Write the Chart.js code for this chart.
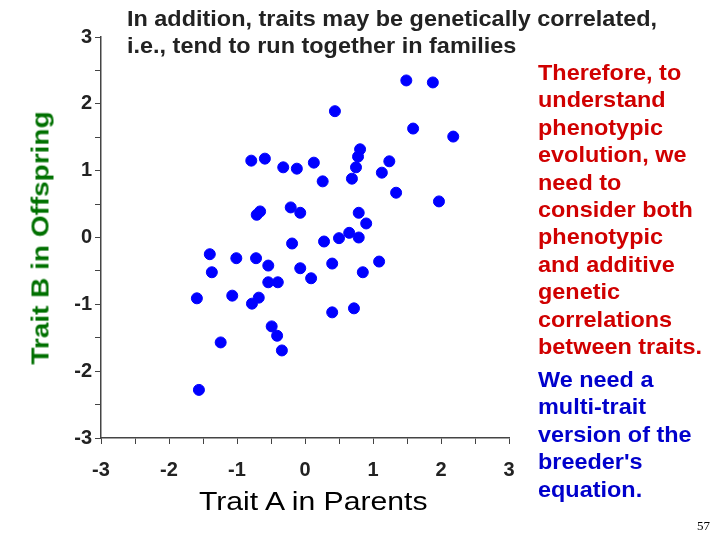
<!DOCTYPE html>
<html><head><meta charset="utf-8">
<script src="https://cdn.jsdelivr.net/npm/chart.js@4"></script>
<style>
body{margin:0;width:720px;height:540px;background:#fff;position:relative;overflow:hidden;font-family:"Liberation Sans",Arial,sans-serif}
.t{position:absolute;font-weight:bold;transform-origin:0 0;transform:scaleX(1.09);white-space:nowrap}
</style></head><body>
<canvas id="c" width="720" height="540" style="position:absolute;left:0;top:0"></canvas>
<div class="t" style="left:127px;top:6px;font-size:21.5px;line-height:27px;color:#222">In addition, traits may be genetically correlated,<br>i.e., tend to run together in families</div>
<div class="t" style="left:538px;top:60px;font-size:21.5px;line-height:27.4px;color:#d00000">Therefore, to<br>understand<br>phenotypic<br>evolution, we<br>need to<br>consider both<br>phenotypic<br>and additive<br>genetic<br>correlations<br>between traits.</div>
<div class="t" style="left:538px;top:367px;font-size:21.5px;line-height:27.4px;color:#0000cc">We need a<br>multi-trait<br>version of the<br>breeder's<br>equation.</div>
<div class="t" style="left:199px;top:486px;font-size:26px;font-weight:normal;color:#000;transform:scaleX(1.16)">Trait A in Parents</div>
<div style="position:absolute;left:41px;top:238px;font-size:23.5px;font-weight:bold;color:#007000;transform:translate(-50%,-50%) rotate(-90deg) scaleX(1.19);white-space:nowrap">Trait B in Offspring</div>
<div style="position:absolute;left:697px;top:518px;font-size:13px;font-family:'Liberation Serif',serif">57</div>
<script>
const traitA=[-1.59,-1.56,-1.40,-1.37,-1.24,-1.07,-1.01,-0.79,-0.78,-0.72,-0.71,-0.68,-0.66,-0.59,-0.54,-0.54,-0.49,-0.41,-0.40,-0.34,-0.32,-0.21,-0.19,-0.12,-0.07,-0.07,0.09,0.13,0.26,0.28,0.40,0.40,0.44,0.50,0.65,0.69,0.72,0.75,0.78,0.79,0.79,0.81,0.85,0.90,1.09,1.13,1.24,1.34,1.49,1.59,1.88,1.97,2.18];
const traitB=[-0.91,-2.28,-0.25,-0.52,-1.57,-0.87,-0.31,1.15,-0.99,-0.31,0.34,-0.90,0.39,1.18,-0.42,-0.67,-1.33,-1.47,-0.67,-1.69,1.05,0.45,-0.09,1.03,0.37,-0.46,-0.61,1.12,0.84,-0.06,-1.12,-0.39,1.89,-0.01,0.07,0.88,-1.06,1.05,1.21,0.0,0.37,1.32,-0.52,0.21,-0.36,0.97,1.14,0.67,2.35,1.63,2.32,0.54,1.51];
const data=traitA.map((x,i)=>({x:x,y:traitB[i]}));
const tickFont={family:"Liberation Sans",size:20,weight:"bold"};
const lab=v=>Number.isInteger(v)?String(v):"";
new Chart(document.getElementById('c'),{type:'scatter',
data:{datasets:[{data:data,backgroundColor:'#0000ff',borderColor:'#0000ff',pointRadius:5.5}]},
options:{responsive:false,animation:false,plugins:{legend:{display:false},tooltip:{enabled:false}},
layout:{padding:{left:0,top:37,right:211,bottom:0}},
scales:{
x:{min:-3,max:3,ticks:{stepSize:0.5,autoSkip:false,maxRotation:0,callback:lab,color:'#222',font:tickFont,padding:14},
 grid:{drawOnChartArea:false,tickLength:6,color:'#444'},border:{color:'#444',width:1.5},
 afterFit:s=>{s.height=102;}},
y:{min:-3,max:3,ticks:{stepSize:0.5,autoSkip:false,callback:lab,color:'#222',font:tickFont,padding:3},
 grid:{drawOnChartArea:false,tickLength:6,color:'#444'},border:{color:'#444',width:1.5},
 afterFit:s=>{s.width=101;}}}}});
</script></body></html>
